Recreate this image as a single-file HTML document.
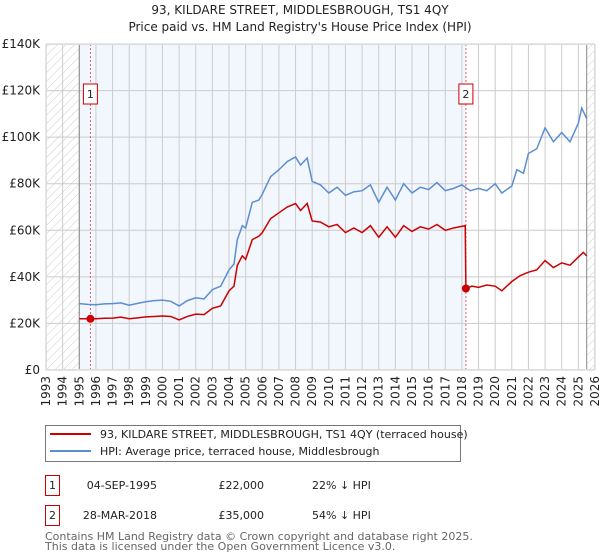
<!DOCTYPE html>
<html><head><meta charset="utf-8"><style>
body{margin:0;background:#fff;}
svg{display:block;font-family:"DejaVu Sans","Liberation Sans",sans-serif;}
</style></head><body>
<svg id="c" width="600" height="560" viewBox="0 0 600 560" xmlns="http://www.w3.org/2000/svg">
<defs><pattern id="hatch" width="6" height="6" patternUnits="userSpaceOnUse" patternTransform="rotate(45)"><line x1="0" y1="0" x2="0" y2="6" stroke="#ccc" stroke-width="1"/></pattern></defs>
<text x="300" y="14" text-anchor="middle" font-size="12" fill="#222">93, KILDARE STREET, MIDDLESBROUGH, TS1 4QY</text>
<text x="300" y="31" text-anchor="middle" font-size="12" fill="#222">Price paid vs. HM Land Registry's House Price Index (HPI)</text>
<g id="plot"></g>
<g>
<rect x="45.5" y="425.5" width="415" height="36" fill="#fff" stroke="#777"/>
<line x1="50" y1="434" x2="91" y2="434" stroke="#cc0000" stroke-width="2"/>
<text x="100" y="438" font-size="11" fill="#222">93, KILDARE STREET, MIDDLESBROUGH, TS1 4QY (terraced house)</text>
<line x1="50" y1="451" x2="91" y2="451" stroke="#5b8ed1" stroke-width="2"/>
<text x="100" y="455" font-size="11" fill="#222">HPI: Average price, terraced house, Middlesbrough</text>
</g>
<g font-size="11" fill="#222">
<rect x="45.5" y="475.5" width="14" height="20" fill="#fff" stroke="#cc0000"/>
<text x="52.5" y="489" text-anchor="middle">1</text>
<text x="157" y="489" text-anchor="end">04-SEP-1995</text>
<text x="264" y="489" text-anchor="end">£22,000</text>
<text x="312" y="489">22% ↓ HPI</text>
<rect x="45.5" y="505.5" width="14" height="20" fill="#fff" stroke="#cc0000"/>
<text x="52.5" y="519" text-anchor="middle">2</text>
<text x="157" y="519" text-anchor="end">28-MAR-2018</text>
<text x="264" y="519" text-anchor="end">£35,000</text>
<text x="312" y="519">54% ↓ HPI</text>
</g>
<text x="45" y="540" font-size="11" fill="#666">Contains HM Land Registry data © Crown copyright and database right 2025.</text>
<text x="45" y="550" font-size="11" fill="#666">This data is licensed under the Open Government Licence v3.0.</text>
</svg>
<script>
const yTicks=[0,20000,40000,60000,80000,100000,120000,140000];
const yTickLabels=["£0","£20K","£40K","£60K","£80K","£100K","£120K","£140K"];
const xYears=[1993,1994,1995,1996,1997,1998,1999,2000,2001,2002,2003,2004,2005,2006,2007,2008,2009,2010,2011,2012,2013,2014,2015,2016,2017,2018,2019,2020,2021,2022,2023,2024,2025,2026];
const hpiDates=[1995,1995.5,1996,1996.5,1997,1997.5,1998,1998.5,1999,1999.5,2000,2000.5,2001,2001.5,2002,2002.5,2003,2003.5,2004,2004.3,2004.5,2004.8,2005,2005.4,2005.8,2006,2006.5,2007,2007.5,2008,2008.3,2008.7,2009,2009.5,2010,2010.5,2011,2011.5,2012,2012.5,2013,2013.5,2014,2014.5,2015,2015.5,2016,2016.5,2017,2017.5,2018,2018.5,2019,2019.5,2020,2020.4,2021,2021.3,2021.7,2022,2022.5,2023,2023.5,2024,2024.5,2025,2025.2,2025.5];
const hpiValues=[28500,28200,28000,28400,28500,28800,27800,28600,29300,29800,30000,29500,27500,29800,31000,30500,34500,36000,43000,45500,56000,62000,61000,72000,73000,75500,83000,86000,89500,91500,88000,91000,81000,79500,76000,78500,75000,76500,77000,79500,72000,78500,73000,80000,76000,78500,77500,80500,77000,78000,79500,77000,78000,77000,80000,76000,79000,86000,84500,93000,95000,104000,98000,102000,98000,106000,112500,108000];
const saleDates=[1995.67,2018.24];
const saleValues=[22000,35000];
const priceDates=[1995,1995.67,1996,1996.5,1997,1997.5,1998,1998.5,1999,1999.5,2000,2000.5,2001,2001.5,2002,2002.5,2003,2003.5,2004,2004.3,2004.5,2004.8,2005,2005.4,2005.8,2006,2006.5,2007,2007.5,2008,2008.3,2008.7,2009,2009.5,2010,2010.5,2011,2011.5,2012,2012.5,2013,2013.5,2014,2014.5,2015,2015.5,2016,2016.5,2017,2017.5,2018.2,2018.24,2018.6,2019,2019.5,2020,2020.4,2021,2021.5,2022,2022.5,2023,2023.5,2024,2024.5,2025,2025.3,2025.5];
const priceValues=[22000,22000,22000,22200,22300,22700,22000,22400,22800,23000,23200,23000,21500,23000,24000,23800,26500,27500,34000,36000,45000,49000,47500,56000,57500,59000,65000,67500,70000,71500,68500,71500,64000,63500,61500,62500,59000,61000,59000,62000,57000,61500,57000,62000,59500,61500,60500,62500,60000,61000,62000,35000,36000,35500,36500,36000,34000,38000,40500,42000,43000,47000,44000,46000,45000,48500,50500,49000];
const X0=46,X1=595,Y0=370,Y1=44,T0=1993,T1=2026,VMAX=140000;
const xs=t=>X0+(t-T0)/(T1-T0)*(X1-X0);
const ys=v=>Y0-v/VMAX*(Y0-Y1);
const NS="http://www.w3.org/2000/svg",g=document.getElementById('plot');
function mk(tag,attrs,parent){const e=document.createElementNS(NS,tag);for(const k in attrs)e.setAttribute(k,attrs[k]);(parent||g).appendChild(e);return e;}
let e;
e=mk('rect',{x:X0,y:Y1,width:X1-X0,height:Y0-Y1,fill:'#fff'});


e=mk('rect',{x:xs(1995),y:Y1,width:xs(saleDates[1])-xs(1995),height:Y0-Y1,fill:'#eef3fc',opacity:0.75});


e=mk('rect',{x:X0,y:Y1,width:xs(1995)-X0,height:Y0-Y1,fill:'url(#hatch)'});


e=mk('rect',{x:xs(2025.5),y:Y1,width:X1-xs(2025.5),height:Y0-Y1,fill:'url(#hatch)'});


xYears.forEach(yr=>{
  e=mk('line',{x1:xs(yr),x2:xs(yr),y1:Y1,y2:Y0,stroke:'#ccc','stroke-width':1});
  
  
  e=mk('text',{x:0,y:0,'font-size':12,fill:'#222','text-anchor':'end',transform:`translate(${xs(yr)+4},${Y0+6}) rotate(-90)`});
  e.textContent=yr;
  
  
});
yTicks.forEach((v,i)=>{
  e=mk('line',{x1:X0,x2:X1,y1:ys(v),y2:ys(v),stroke:'#ccc','stroke-width':1});
  
  
  e=mk('text',{x:X0-6,y:ys(v)+4,'font-size':12,fill:'#222','text-anchor':'end'});
  e.textContent=yTickLabels[i];
  
  
});
e=mk('line',{x1:xs(1995),x2:xs(1995),y1:Y1,y2:Y0,stroke:'#888','stroke-width':1});


e=mk('line',{x1:xs(2025.5),x2:xs(2025.5),y1:Y1,y2:Y0,stroke:'#888','stroke-width':1});


saleDates.forEach((d,i)=>{
  e=mk('line',{x1:xs(d),x2:xs(d),y1:Y1,y2:Y0,stroke:'#e06060','stroke-width':1,'stroke-dasharray':'2,2'});
  
  
});
e=mk('polyline',{points:hpiDates.map((d,i)=>xs(d)+','+ys(hpiValues[i])).join(' '),fill:'none',stroke:'#5b8ed1','stroke-width':1.5});


e=mk('polyline',{points:priceDates.map((d,i)=>xs(d)+','+ys(priceValues[i])).join(' '),fill:'none',stroke:'#cc0000','stroke-width':1.5});


saleDates.forEach((d,i)=>{
  e=mk('circle',{cx:xs(d),cy:ys(saleValues[i]),r:4,fill:'#cc0000'});
  
  
  const bx=xs(d)-7,by=84;
  e=mk('rect',{x:bx,y:by,width:14,height:20,fill:'#fff',stroke:'#cc0000'});
  
  
  e=mk('text',{x:xs(d),y:by+14,'font-size':11,fill:'#222','text-anchor':'middle'});
  e.textContent=String(i+1);
  
  
});
e=mk('rect',{x:X0+0.5,y:Y1+0.5,width:X1-X0-1,height:Y0-Y1-1,fill:'none',stroke:'#ddd'});


</script>
</body></html>
